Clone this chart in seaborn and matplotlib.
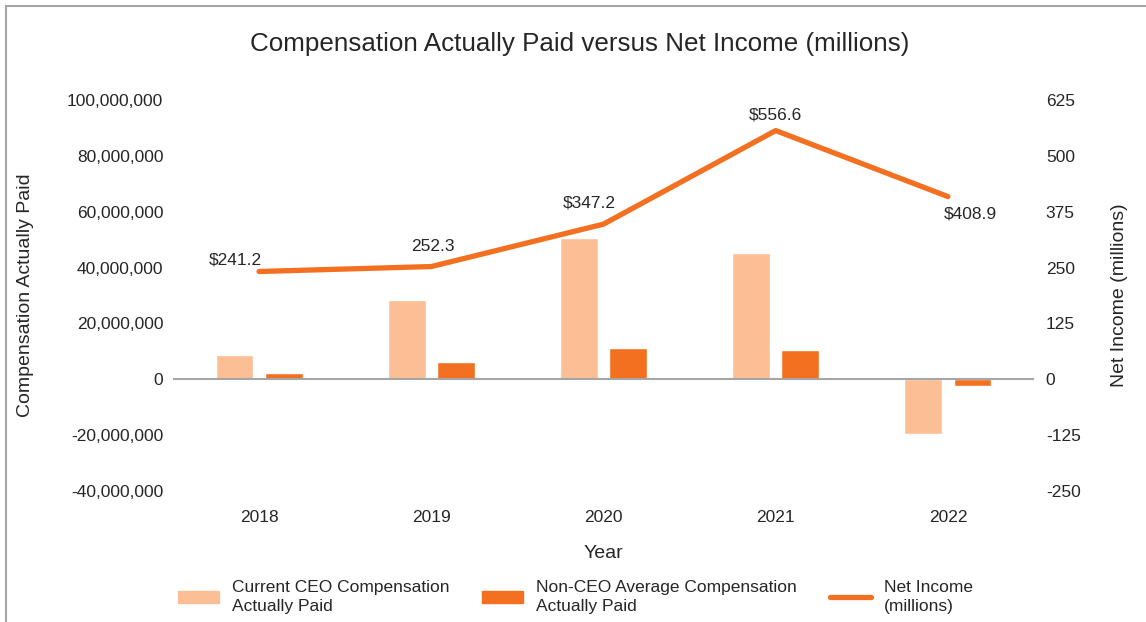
import numpy as np
import pandas as pd
import seaborn as sns
import matplotlib.pyplot as plt
from matplotlib.patches import Rectangle, Patch
from matplotlib.lines import Line2D
from matplotlib.ticker import FuncFormatter

# --- data ---
years = ['2018', '2019', '2020', '2021', '2022']
ceo_cap = [8.6e6, 28.4e6, 50.6e6, 45.2e6, -19.7e6]
non_ceo_cap = [2.3e6, 6.3e6, 11.2e6, 10.4e6, -2.4e6]
net_income = [241.2, 252.3, 347.2, 556.6, 408.9]
ni_labels = ['$241.2', '252.3', '$347.2', '$556.6', '$408.9']

ceo_name = 'Current CEO Compensation\nActually Paid'
non_ceo_name = 'Non-CEO Average Compensation\nActually Paid'
ni_name = 'Net Income\n(millions)'

LIGHT = '#FCBF95'
DARK = '#F37021'
TXT = '#262626'

sns.set_style('white')
plt.rcParams['font.family'] = ['Liberation Sans', 'DejaVu Sans']
plt.rcParams['axes.unicode_minus'] = False
plt.rcParams['text.color'] = TXT
plt.rcParams['axes.labelcolor'] = TXT
plt.rcParams['xtick.color'] = TXT
plt.rcParams['ytick.color'] = TXT

bars = pd.DataFrame({
    'Year': years * 2,
    'value': ceo_cap + non_ceo_cap,
    'series': [ceo_name] * len(years) + [non_ceo_name] * len(years),
})
line = pd.DataFrame({'pos': np.arange(len(years)), 'ni': net_income})

fig = plt.figure(figsize=(11.46, 6.22), dpi=100)
ax = fig.add_axes([173 / 1146, 1 - 491 / 622, 861 / 1146, 391 / 622])

sns.barplot(data=bars, x='Year', y='value', hue='series',
            palette=[LIGHT, DARK], width=0.57, gap=0.23, ax=ax,
            saturation=1, legend=False)
ax.axhline(0, color='#A6A6A6', lw=1.5, zorder=1)
ax.set_ylim(-40e6, 100e6)
ax.set_yticks(np.arange(-40e6, 100e6 + 1, 20e6))
ax.yaxis.set_major_formatter(FuncFormatter(lambda v, p: f'{v:,.0f}'))
ax.set_xlim(-0.5, 4.5)
ax.tick_params(axis='both', length=0, labelsize=12.5)
ax.tick_params(axis='x', pad=14)
ax.tick_params(axis='y', pad=7)
ax.set_xlabel('Year', fontsize=14, labelpad=14)
ax.set_ylabel('Compensation Actually Paid', fontsize=14, labelpad=24)
for s in ax.spines.values():
    s.set_visible(False)

ax2 = ax.twinx()
sns.lineplot(data=line, x='pos', y='ni', color=DARK, lw=3.8, ax=ax2,
             solid_capstyle='round')
ax2.set_ylim(-250, 625)
ax2.set_yticks(np.arange(-250, 626, 125))
ax2.tick_params(axis='y', length=0, labelsize=12.5, pad=8.5)
ax2.set_ylabel('Net Income (millions)', fontsize=14, labelpad=22)
ax2.set_xlim(-0.5, 4.5)
for s in ax2.spines.values():
    s.set_visible(False)

offsets = [(-17, 8), (1, 14.5), (-10, 15), (0, 11), (16.5, -12.5)]
for x, y, lab, off in zip(line['pos'], net_income, ni_labels, offsets):
    ax2.annotate(lab, (x, y), xytext=off, textcoords='offset points',
                 ha='center', va='center', fontsize=12.5)

fig.text(580 / 1146, 1 - 44 / 622, 'Compensation Actually Paid versus Net Income (millions)',
         ha='center', va='center', fontsize=18.7)

handles = [Patch(color=LIGHT), Patch(color=DARK),
           Line2D([0], [0], color=DARK, lw=3.8)]
leg = fig.legend(handles, [ceo_name, non_ceo_name, ni_name], loc='center',
                 bbox_to_anchor=(0.502, 1 - 597 / 622), ncol=3, frameon=False,
                 fontsize=12.5, handlelength=2.35, handleheight=0.7,
                 columnspacing=1.9, handletextpad=0.75)
for t in leg.get_texts():
    t.set_linespacing(1.35)

fig.add_artist(Rectangle((6 / 1146, -0.1), 1.2, 1 - 6 / 622 + 0.1,
                         transform=fig.transFigure, fill=False,
                         edgecolor='#A6A6A6', lw=1.5))

fig.savefig('out.png', dpi=100)
